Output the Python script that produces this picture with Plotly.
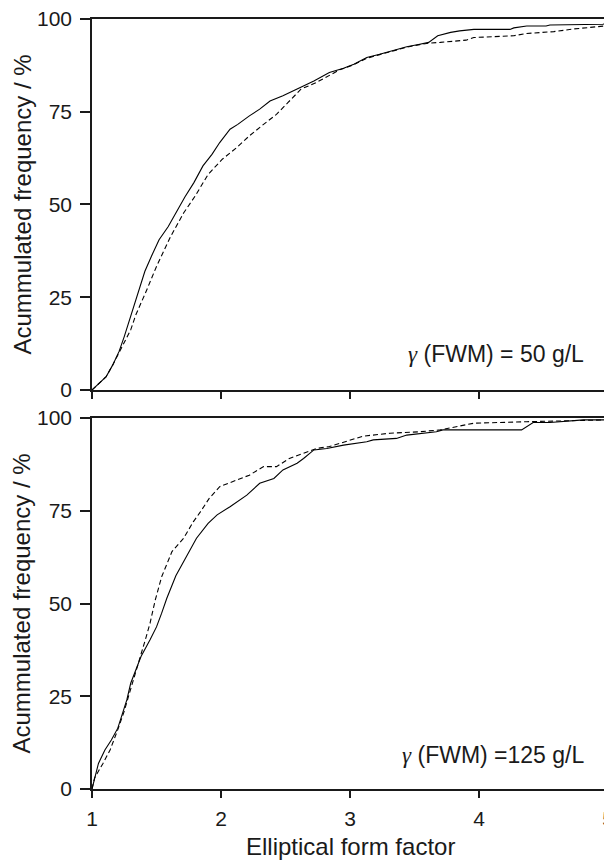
import plotly.graph_objects as go

# ---- data ----
x_50_solid = [1.00, 1.11, 1.16, 1.21, 1.25, 1.29, 1.33, 1.37, 1.41, 1.46, 1.52, 1.59, 1.67, 1.72, 1.79,
              1.86, 1.93, 1.99, 2.07, 2.13, 2.22, 2.30, 2.38, 2.48, 2.59, 2.72, 2.84, 2.95, 3.03, 3.13,
              3.23, 3.34, 3.44, 3.54, 3.61, 3.68, 3.78, 3.85, 3.96, 4.24, 4.27, 4.37, 4.52, 4.55, 4.73,
              4.76, 4.96, 5.00]
y_50_solid = [0.0, 3.6, 6.7, 10.4, 14.4, 18.9, 23.4, 27.9, 32.0, 36.0, 40.5, 44.0, 49.0, 52.0, 55.9,
              60.4, 63.5, 66.7, 70.3, 71.6, 73.9, 75.7, 77.9, 79.3, 81.1, 83.3, 85.6, 86.7, 87.8, 89.6,
              90.5, 91.6, 92.5, 93.2, 93.7, 95.5, 96.4, 96.8, 97.2, 97.2, 97.6, 98.1, 98.1, 98.4, 98.4,
              98.6, 98.6, 98.8]

x_50_dash = [1.00, 1.11, 1.16, 1.21, 1.25, 1.30, 1.34, 1.38, 1.42, 1.50, 1.56, 1.61, 1.71, 1.80, 1.90,
             2.01, 2.12, 2.22, 2.33, 2.43, 2.52, 2.62, 2.74, 2.84, 2.92, 3.03, 3.13, 3.23, 3.34, 3.44,
             3.54, 3.61, 3.70, 3.90, 3.96, 4.27, 4.37, 4.58, 4.73, 4.91, 5.00]
y_50_dash = [0.0, 3.6, 6.7, 10.0, 12.6, 16.2, 20.3, 23.4, 26.6, 33.3, 37.8, 41.4, 47.7, 52.3, 58.1,
             62.2, 65.3, 68.5, 71.6, 74.3, 77.5, 81.1, 82.9, 84.7, 86.3, 87.7, 89.4, 90.4, 91.5, 92.4,
             93.1, 93.5, 93.7, 94.3, 95.0, 95.5, 96.1, 96.6, 97.3, 97.8, 98.2]

x_125_solid = [1.00, 1.05, 1.10, 1.15, 1.20, 1.23, 1.27, 1.30, 1.35, 1.38, 1.45, 1.50, 1.54, 1.58, 1.65,
               1.73, 1.81, 1.90, 1.97, 2.07, 2.20, 2.30, 2.41, 2.48, 2.59, 2.64, 2.72, 2.82, 2.95, 3.13,
               3.18, 3.36, 3.44, 3.67, 3.72, 4.33, 4.42, 4.55, 4.81, 5.00]
y_125_solid = [0.0, 6.9, 10.5, 13.2, 16.4, 19.9, 24.0, 28.5, 33.0, 35.7, 40.2, 43.7, 47.4, 51.4, 57.5,
               62.5, 67.6, 71.6, 73.9, 76.1, 79.2, 82.4, 83.7, 86.0, 87.8, 89.1, 91.4, 91.8, 92.7, 93.6,
               94.1, 94.5, 95.4, 96.3, 96.8, 96.8, 98.8, 98.8, 99.5, 99.5]

x_125_dash = [1.00, 1.02, 1.085, 1.14, 1.20, 1.25, 1.29, 1.33, 1.39, 1.42, 1.45, 1.49, 1.54, 1.59, 1.62,
              1.71, 1.785, 1.84, 1.91, 1.99, 2.12, 2.22, 2.33, 2.43, 2.53, 2.64, 2.74, 2.84, 3.00, 3.10,
              3.31, 3.54, 3.70, 3.83, 3.96, 4.37, 4.73, 5.00]
y_125_dash = [0.0, 3.0, 6.9, 10.5, 16.0, 21.0, 25.8, 30.3, 37.5, 41.0, 44.7, 50.9, 57.2, 61.5, 64.0,
              67.6, 72.0, 74.7, 78.4, 81.5, 83.3, 84.6, 86.9, 86.9, 89.1, 90.5, 91.8, 92.3, 94.1, 95.1,
              95.9, 96.3, 96.8, 97.7, 98.6, 99.0, 99.3, 99.5]

x_ticks = [1, 2, 3, 4, 5]
y_ticks = [0, 25, 50, 75, 100]
y_title = "Acummulated frequency / %"
x_title = "Elliptical form factor"
label_top = '<span style="font-family:\'Liberation Serif\'"><i>γ</i></span> (FWM) = 50 g/L'
label_bottom = '<span style="font-family:\'Liberation Serif\'"><i>γ</i></span> (FWM) =125 g/L'

# ---- figure ----
INK = "#1a1a1a"
FONT = "Liberation Sans, Arial, sans-serif"

fig = go.Figure()
line_solid = dict(color="black", width=1.1)
line_dash = dict(color="black", width=1.1, dash="5px,3px")

fig.add_trace(go.Scatter(x=x_50_solid, y=y_50_solid, mode="lines", line=line_solid,
                         xaxis="x", yaxis="y", showlegend=False))
fig.add_trace(go.Scatter(x=x_50_dash, y=y_50_dash, mode="lines", line=line_dash,
                         xaxis="x", yaxis="y", showlegend=False))
fig.add_trace(go.Scatter(x=x_125_solid, y=y_125_solid, mode="lines", line=line_solid,
                         xaxis="x2", yaxis="y2", showlegend=False))
fig.add_trace(go.Scatter(x=x_125_dash, y=y_125_dash, mode="lines", line=line_dash,
                         xaxis="x2", yaxis="y2", showlegend=False))

axis_common = dict(showline=True, linecolor=INK, linewidth=1.5, mirror=True,
                   ticks="outside", tickcolor=INK, tickwidth=1.5,
                   showgrid=False, zeroline=False, automargin=False,
                   ticklabeloverflow="allow",
                   tickfont=dict(family=FONT, size=21, color=INK))

# the page body adds an 8 px offset, so the figure is sized/margined to compensate
PLOT_W = 516
PLOT_H = 770
top_dom = [0.5182, 1.0]
bot_dom = [0.0, 0.4818]
title_font = dict(family=FONT, size=24, color=INK)
note_font = dict(family=FONT, size=23, color=INK)

fig.update_layout(
    width=604, height=853,
    margin=dict(l=84, r=4, t=11, b=72),
    paper_bgcolor="white", plot_bgcolor="white",
    xaxis=dict(axis_common, domain=[0, 1], anchor="y", range=[1, 5], tickvals=x_ticks,
               showticklabels=False, ticklen=7),
    yaxis=dict(axis_common, domain=top_dom, anchor="x", range=[0, 100], tickvals=y_ticks,
               ticklen=10, ticklabelstandoff=4),
    xaxis2=dict(axis_common, domain=[0, 1], anchor="y2", range=[1, 5], tickvals=x_ticks,
                ticklen=7, ticklabelstandoff=3),
    yaxis2=dict(axis_common, domain=bot_dom, anchor="x2", range=[0, 100], tickvals=y_ticks,
                ticklen=10, ticklabelstandoff=4),
    annotations=[
        dict(text=y_title, xref="paper", yref="y domain", x=(22 - 92) / PLOT_W, y=0.5,
             xanchor="center", yanchor="middle", textangle=-90, showarrow=False, font=title_font),
        dict(text=y_title, xref="paper", yref="y2 domain", x=(22 - 92) / PLOT_W, y=0.5,
             xanchor="center", yanchor="middle", textangle=-90, showarrow=False, font=title_font),
        dict(text=x_title, xref="x2 domain", yref="paper", x=0.5, y=-(847 - 789) / PLOT_H,
             xanchor="center", yanchor="middle", showarrow=False, font=title_font),
        dict(text=label_top, xref="x domain", yref="y", x=0.957, y=9.7,
             xanchor="right", yanchor="middle", showarrow=False, font=note_font),
        dict(text=label_bottom, xref="x2 domain", yref="y2", x=0.957, y=9.2,
             xanchor="right", yanchor="middle", showarrow=False, font=note_font),
    ],
)

fig.write_html("out.html")
